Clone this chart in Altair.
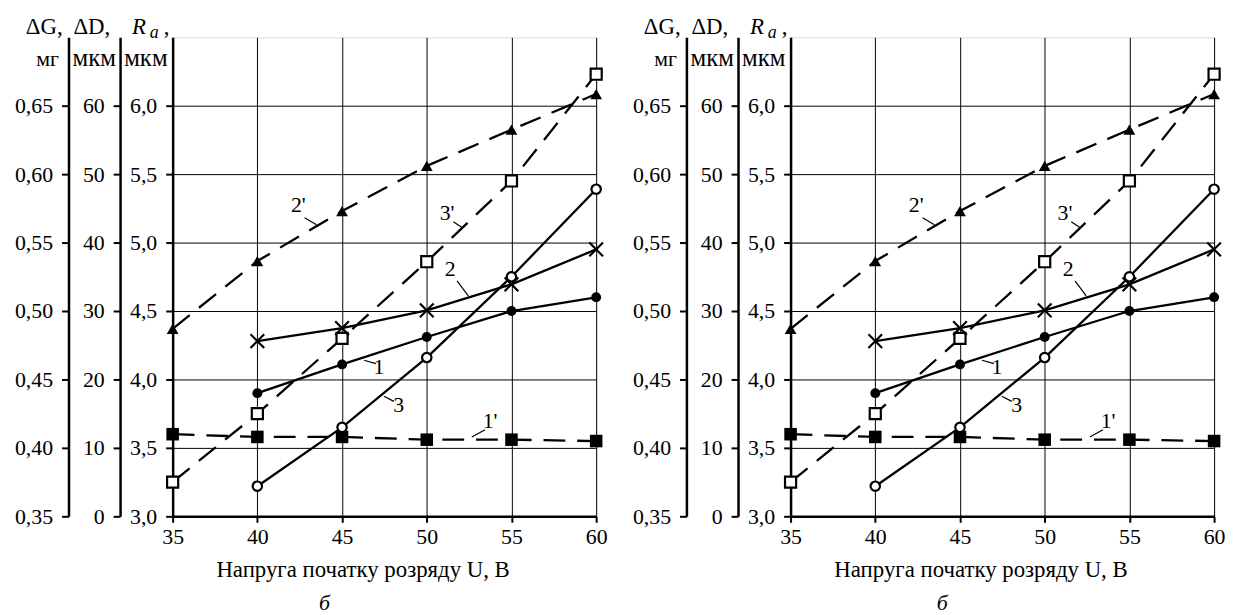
import altair as alt
import pandas as pd

FONT = "Liberation Serif"

# ---------------- data ----------------
U_full = [35, 40, 45, 50, 55, 60]
U_from40 = [40, 45, 50, 55, 60]

# curve 1  : ΔG, мг   (solid, filled circles)
dG_1 = [0.440, 0.461, 0.481, 0.500, 0.510]
# curve 1' : ΔG, мг   (dashed, filled squares)
dG_1p = [0.410, 0.408, 0.408, 0.406, 0.406, 0.405]
# curve 2  : ΔD, мкм  (solid, crosses)
dD_2 = [25.6, 27.5, 30.1, 33.9, 39.0]
# curve 2' : ΔD, мкм  (dashed, filled triangles)
dD_2p = [27.4, 37.3, 44.6, 51.2, 56.5, 61.7]
# curve 3  : Ra, мкм  (solid, open circles)
Ra_3 = [3.22, 3.65, 4.16, 4.75, 5.39]
# curve 3' : Ra, мкм  (dashed, open squares)
Ra_3p = [3.25, 3.75, 4.30, 4.86, 5.45, 6.23]

x_ticks = [35, 40, 45, 50, 55, 60]
dG_ticks = [0.35, 0.40, 0.45, 0.50, 0.55, 0.60, 0.65]
dD_ticks = [0, 10, 20, 30, 40, 50, 60]
Ra_ticks = [3.0, 3.5, 4.0, 4.5, 5.0, 5.5, 6.0]

# curve labels (in U / Ra units) and their leader lines
curve_labels = ["1", "2", "3", "1'", "2'", "3'"]
label_U = [47.18, 51.39, 48.35, 53.74, 42.42, 51.20]
label_Ra = [4.094, 4.804, 3.814, 3.696, 5.275, 5.217]
leader_U1 = [46.30, 51.79, 47.47, 52.66, 42.79, 51.57]
leader_U2 = [47.00, 52.45, 48.06, 53.44, 43.49, 52.10]
leader_Ra1 = [4.140, 4.720, 3.877, 3.580, 5.181, 5.152]
leader_Ra2 = [4.116, 4.610, 3.840, 3.633, 5.130, 5.109]

x_title = "Напруга початку розряду U, В"
sub_label = "б"

# ---------------- scales / axes ----------------
X_SCALE = alt.Scale(domain=[35, 60], nice=False, zero=False)
G_SCALE = alt.Scale(domain=[0.35, 0.70], nice=False, zero=False)
D_SCALE = alt.Scale(domain=[0, 70], nice=False, zero=False)
R_SCALE = alt.Scale(domain=[3.0, 6.5], nice=False, zero=False)

x_axis = alt.Axis(values=x_ticks, grid=True, gridColor="black", gridWidth=1,
                  gridOpacity=1, domainColor="black", domainWidth=2.5,
                  tickColor="black", tickWidth=2, tickSize=6, labelFlush=False,
                  labelFont=FONT, labelFontSize=22, labelColor="black",
                  labelPadding=4, format="d", title=None)


def y_axis(values, expr, offset, grid=False):
    return alt.Axis(values=values, orient="left", offset=offset, grid=grid,
                    gridColor="black", gridWidth=1, gridOpacity=1,
                    domainColor="black", domainWidth=2.5, tickColor="black",
                    tickWidth=2, tickSize=7, labelFont=FONT, labelFontSize=22,
                    labelColor="black", labelPadding=9, labelExpr=expr,
                    labelFlush=False, title=None)


G_AXIS = y_axis(dG_ticks, "replace(format(datum.value, '.2f'), '.', ',')", 105)
D_AXIS = y_axis(dD_ticks, "format(datum.value, 'd')", 53)
R_AXIS = y_axis(Ra_ticks, "replace(format(datum.value, '.1f'), '.', ',')", 0, grid=True)

DASH = [22, 12]
LW = 2.3


def series_df(xs, ys):
    return pd.DataFrame({"U": xs, "v": ys})


def enc(scale, axis=None):
    return dict(x=alt.X("U:Q", scale=X_SCALE, axis=x_axis),
                y=alt.Y("v:Q", scale=scale, axis=axis))


def panel():
    layers = []
    d1 = series_df(U_from40, dG_1)
    d1p = series_df(U_full, dG_1p)
    d2 = series_df(U_from40, dD_2)
    d2p = series_df(U_full, dD_2p)
    d3 = series_df(U_from40, Ra_3)
    d3p = series_df(U_full, Ra_3p)

    # Ra axis + grid carried by curve 3'
    layers.append(alt.Chart(d3p).mark_line(color="black", strokeWidth=LW, strokeDash=DASH)
                  .encode(**enc(R_SCALE, R_AXIS)))
    layers.append(alt.Chart(d2p).mark_line(color="black", strokeWidth=LW, strokeDash=DASH)
                  .encode(**enc(D_SCALE, D_AXIS)))
    layers.append(alt.Chart(d1p).mark_line(color="black", strokeWidth=LW, strokeDash=DASH)
                  .encode(**enc(G_SCALE, G_AXIS)))
    layers.append(alt.Chart(d1).mark_line(color="black", strokeWidth=LW)
                  .encode(**enc(G_SCALE)))
    layers.append(alt.Chart(d2).mark_line(color="black", strokeWidth=LW)
                  .encode(**enc(D_SCALE)))
    layers.append(alt.Chart(d3).mark_line(color="black", strokeWidth=LW)
                  .encode(**enc(R_SCALE)))

    # leader lines and labels
    lab = pd.DataFrame({"t": curve_labels, "U": label_U, "v": label_Ra})
    lead = pd.DataFrame({"U": leader_U1, "U2": leader_U2,
                         "v": leader_Ra1, "v2": leader_Ra2})
    layers.append(alt.Chart(lead).mark_rule(color="black", strokeWidth=1.2)
                  .encode(x=alt.X("U:Q", scale=X_SCALE, axis=x_axis), x2="U2:Q",
                          y=alt.Y("v:Q", scale=R_SCALE, axis=None), y2="v2:Q"))
    layers.append(alt.Chart(lab).mark_text(font=FONT, fontSize=22, color="black",
                                           align="center", baseline="middle")
                  .encode(x=alt.X("U:Q", scale=X_SCALE, axis=x_axis),
                          y=alt.Y("v:Q", scale=R_SCALE, axis=None), text="t:N"))

    # markers
    layers.append(alt.Chart(d1p).mark_point(shape="square", filled=True, color="black",
                                            size=160, opacity=1)
                  .encode(**enc(G_SCALE)))
    layers.append(alt.Chart(d2p).mark_point(shape="triangle-up", filled=True, color="black",
                                            size=140, opacity=1)
                  .encode(**enc(D_SCALE)))
    layers.append(alt.Chart(d3p).mark_point(shape="square", filled=True, fill="white",
                                            stroke="black", strokeWidth=2.2, size=125,
                                            opacity=1)
                  .encode(**enc(R_SCALE)))
    layers.append(alt.Chart(d1).mark_point(shape="circle", filled=True, color="black",
                                           size=100, opacity=1)
                  .encode(**enc(G_SCALE)))
    layers.append(alt.Chart(d2).mark_point(shape="M-1,-1L1,1M-1,1L1,-1", filled=False,
                                           stroke="black", strokeWidth=2.2, size=190,
                                           opacity=1)
                  .encode(**enc(D_SCALE)))
    layers.append(alt.Chart(d3).mark_point(shape="circle", filled=True, fill="white",
                                           stroke="black", strokeWidth=2.2, size=90,
                                           opacity=1)
                  .encode(**enc(R_SCALE)))

    # header texts of the three value axes and bottom title
    one = pd.DataFrame({"k": [0]})

    def txt(text, x, y, size=22, italic=False, align="left", baseline="alphabetic"):
        return alt.Chart(one).mark_text(text=text, font=FONT, fontSize=size,
                                        fontStyle="italic" if italic else "normal",
                                        color="black", align=align,
                                        baseline=baseline).encode(
            x=alt.value(x), y=alt.value(y))

    layers += [
        txt("ΔG,", -148, -3, size=23),
        txt("ΔD,", -100, -3, size=23),
        txt("R", -41, -3, size=23, italic=True),
        txt("a", -23, 1, size=18, italic=True),
        txt(",", -9, -3, size=23),
        txt("мг", -126, 29, size=22, align="center"),
        txt("мкм", -79, 29, size=25, align="center"),
        txt("мкм", -27, 29, size=25, align="center"),
        txt(x_title, 192, 544, size=23, align="center"),
        txt(sub_label, 153, 577, size=22, italic=True, align="center"),
    ]

    return alt.layer(*layers).resolve_scale(y="independent").properties(
        width=427, height=483)


chart = alt.hconcat(panel(), panel(), spacing=24).properties(
    padding={"left": 6, "top": 5, "right": 0, "bottom": 0}
).configure_view(stroke="black", strokeWidth=1).configure(font=FONT, background="white")

chart.save("out.html", embed_options={"renderer": "svg", "actions": False})
